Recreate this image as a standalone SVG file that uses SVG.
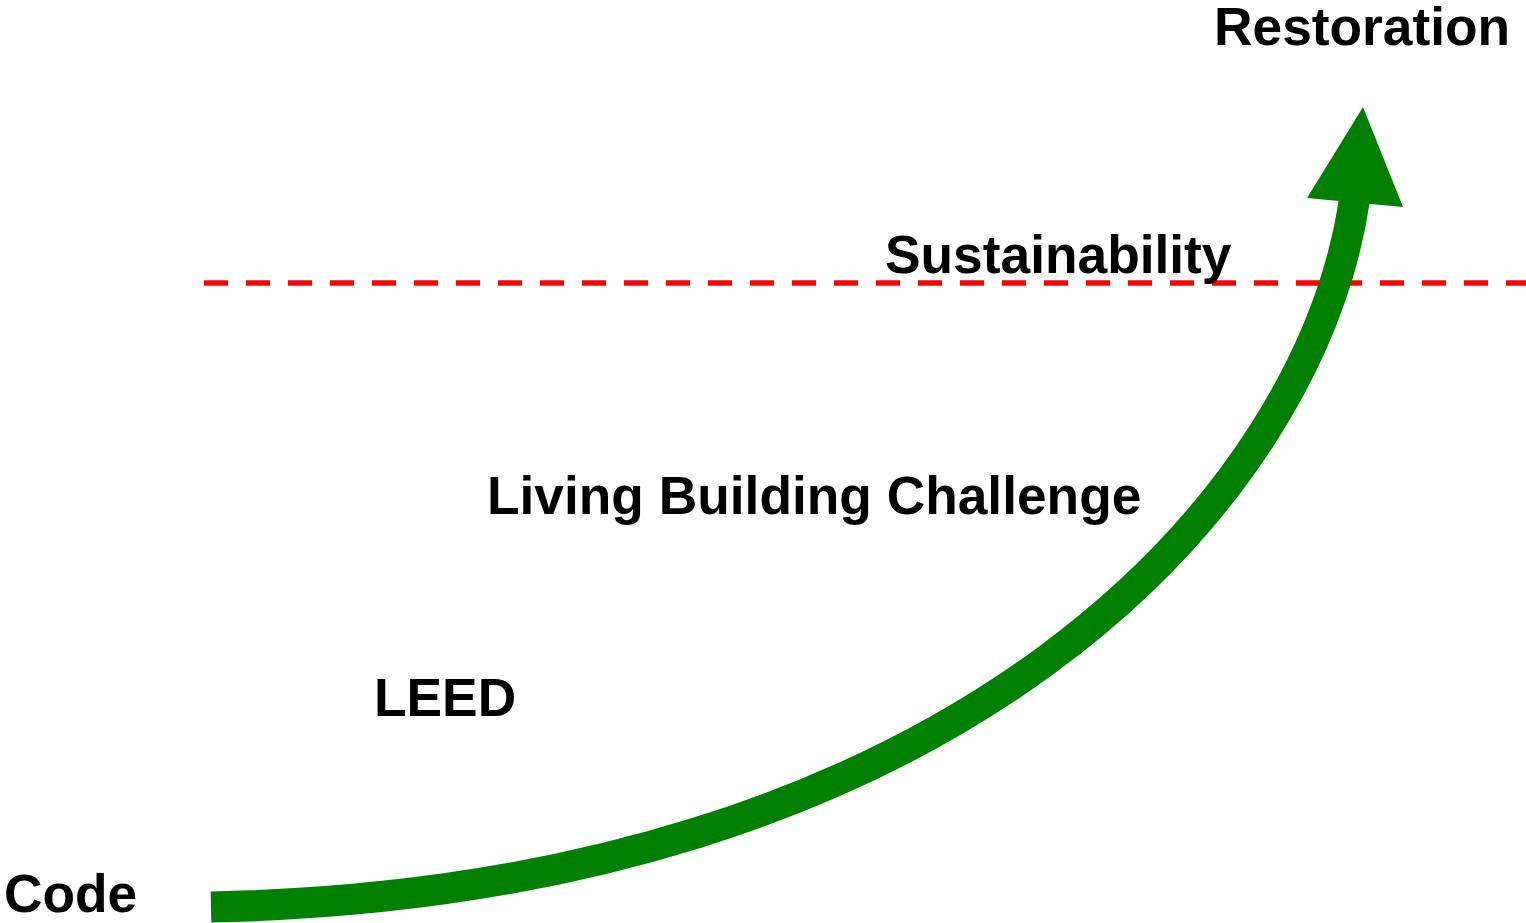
<svg xmlns="http://www.w3.org/2000/svg" width="1526" height="923" viewBox="0 0 1526 923">
<style>
.lbl{font-family:"Liberation Sans",Arial,sans-serif;font-weight:bold;font-size:53.3px;fill:#000}
</style>
<rect width="1526" height="923" fill="#fff"/>
<g id="connectors">
<line id="sustainability-line" x1="204" y1="283" x2="1526" y2="283" stroke="#ff0000" stroke-width="5.5" stroke-dasharray="24 18"/>
<g id="growth-arrow">
<path d="M211,907 C955,892 1312,502 1355,196" fill="none" stroke="#008000" stroke-width="31"/>
<polygon points="1363,107 1403,207 1307,198" fill="#008000"/>
</g>
</g>
<g id="node-restoration"><text class="lbl" x="1214" y="45">Restoration</text></g>
<g id="node-sustainability"><text class="lbl" x="885" y="273">Sustainability</text></g>
<g id="node-lbc"><text class="lbl" x="487" y="514">Living Building Challenge</text></g>
<g id="node-leed"><text class="lbl" x="374" y="716">LEED</text></g>
<g id="node-code"><text class="lbl" x="4" y="912">Code</text></g>
</svg>
